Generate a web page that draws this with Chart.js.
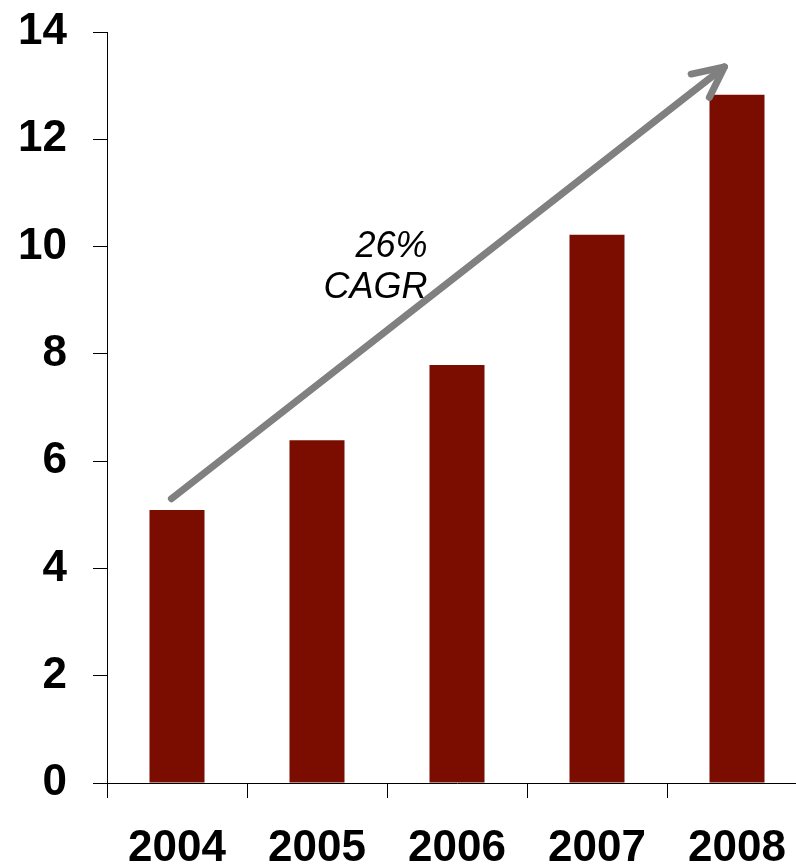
<!DOCTYPE html>
<html>
<head>
<meta charset="utf-8">
<script src="https://cdn.jsdelivr.net/npm/chart.js@4.4.1/dist/chart.umd.min.js"></script>
<style>
  html, body { margin: 0; padding: 0; background: #fff; overflow: hidden; }
  #wrap { width: 796px; height: 867px; overflow: hidden; }
</style>
</head>
<body>
<div id="wrap"><canvas id="chart1" width="810" height="867"></canvas></div>
<script>
const years = ['2004', '2005', '2006', '2007', '2008']
const values = [5.09, 6.39, 7.79, 10.22, 12.83]
const yTicks = [0, 2, 4, 6, 8, 10, 12, 14]

// growth arrow + label, in data units (category index, value)
const arrowFrom = [-0.04, 5.3]
const arrowTo = [3.91, 13.35]
const cagrText = ['26%', 'CAGR']
const cagrAnchor = [1.79, 9.81]

const fontFamily = '"Liberation Sans", Arial, sans-serif'

const arrowPlugin = {
  id: 'cagrArrow',
  afterDatasetsDraw(chart) {
    const ctx = chart.ctx
    const xs = chart.scales.x, ys = chart.scales.y
    const x1 = xs.getPixelForValue(arrowFrom[0]), y1 = ys.getPixelForValue(arrowFrom[1])
    const x2 = xs.getPixelForValue(arrowTo[0]), y2 = ys.getPixelForValue(arrowTo[1])
    const ang = Math.atan2(y2 - y1, x2 - x1)
    const head = 34, spread = 0.45
    ctx.save()
    ctx.strokeStyle = '#808080'
    ctx.lineWidth = 7
    ctx.lineCap = 'round'
    ctx.lineJoin = 'round'
    ctx.beginPath()
    ctx.moveTo(x1, y1)
    ctx.lineTo(x2, y2)
    ctx.stroke()
    ctx.beginPath()
    ctx.moveTo(x2 - head * Math.cos(ang - spread), y2 - head * Math.sin(ang - spread))
    ctx.lineTo(x2, y2)
    ctx.lineTo(x2 - head * Math.cos(ang + spread), y2 - head * Math.sin(ang + spread))
    ctx.stroke()

    ctx.fillStyle = '#000'
    ctx.font = 'italic 36px ' + fontFamily
    ctx.textAlign = 'right'
    ctx.textBaseline = 'alphabetic'
    const tx = xs.getPixelForValue(cagrAnchor[0])
    const ty = ys.getPixelForValue(cagrAnchor[1])
    ctx.fillText(cagrText[0], tx, ty)
    ctx.fillText(cagrText[1], tx, ty + 41)
    ctx.restore()
  }
}

new Chart(document.getElementById('chart1'), {
  type: 'bar',
  data: {
    labels: years,
    datasets: [{
      data: values,
      backgroundColor: '#7b0c00',
      barPercentage: 0.393,
      categoryPercentage: 1
    }]
  },
  options: {
    responsive: false,
    animation: false,
    layout: { padding: { top: 32, right: 3, left: 0, bottom: 0 } },
    plugins: { legend: { display: false }, tooltip: { enabled: false } },
    scales: {
      x: {
        offset: true,
        afterFit(scale) {
          scale.height = 84
          scale.paddingLeft = 0
          scale.paddingRight = 0
        },
        grid: { offset: true, drawOnChartArea: false, tickLength: 15, color: '#000', lineWidth: 1 },
        border: { color: '#000', width: 1 },
        ticks: {
          color: '#000',
          padding: 24,
          maxRotation: 0,
          font: { family: fontFamily, size: 44, weight: 'bold' }
        }
      },
      y: {
        min: 0,
        max: 14,
        afterFit(scale) {
          scale.width = 107
          scale.paddingTop = 0
          scale.paddingBottom = 0
        },
        afterBuildTicks(scale) { scale.ticks = yTicks.map(v => ({ value: v })) },
        grid: { drawOnChartArea: false, tickLength: 14, color: '#000', lineWidth: 1 },
        border: { color: '#000', width: 1 },
        ticks: {
          color: '#000',
          padding: 26,
          font: { family: fontFamily, size: 44, weight: 'bold' }
        }
      }
    }
  },
  plugins: [arrowPlugin]
})
</script>
</body>
</html>
